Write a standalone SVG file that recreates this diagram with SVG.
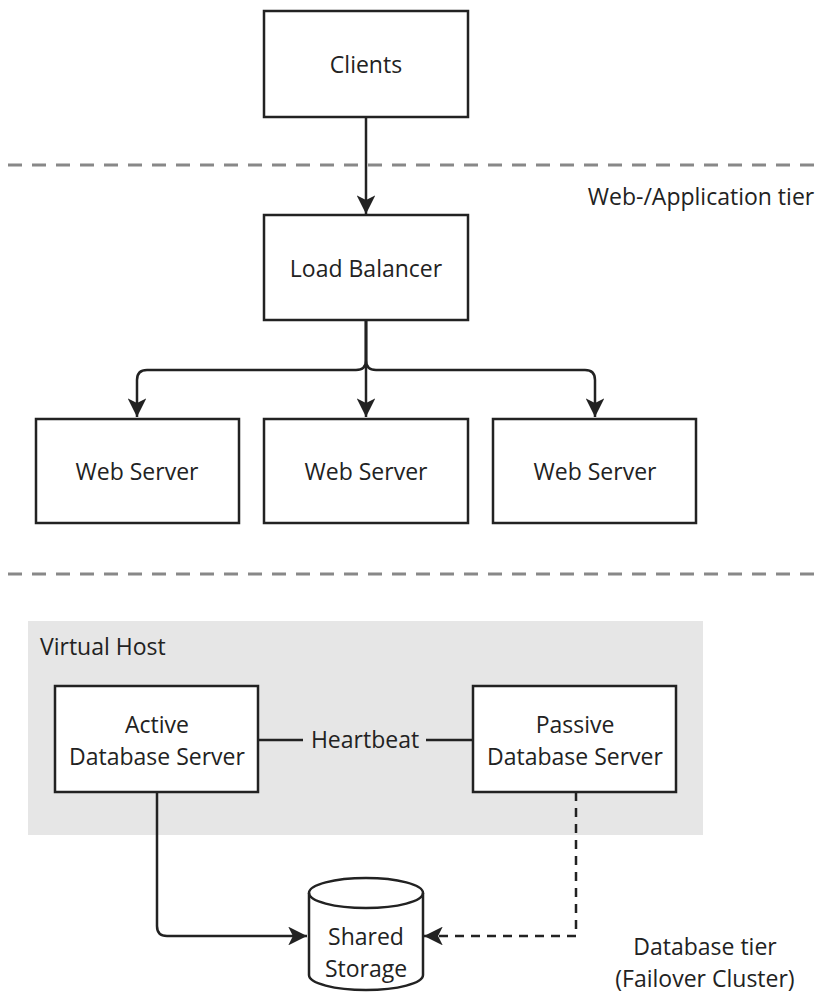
<svg xmlns="http://www.w3.org/2000/svg" width="818" height="994" viewBox="0 0 818 994">
<style>
.box{fill:#fff;stroke:#222;stroke-width:2.5}
.t{font-family:"Open Sans","Liberation Sans",sans-serif;font-size:23px;fill:#222;text-anchor:middle}
.tl{font-family:"Open Sans","Liberation Sans",sans-serif;font-size:23px;fill:#222}
.sep{stroke:#888;stroke-width:3;stroke-dasharray:14 10;fill:none}
.c{fill:none;stroke:#222;stroke-width:2.5}
.d{fill:none;stroke:#222;stroke-width:2.5;stroke-dasharray:9 7}
</style>
<defs>
<marker id="ah" viewBox="0 0 10 10" refX="10" refY="5" markerWidth="7.5" markerHeight="7.5" markerUnits="strokeWidth" orient="auto">
<path d="M0,0 L10,5 L0,10 L2.5,5 Z" fill="#222"/>
</marker>
</defs>
<rect x="0" y="0" width="818" height="994" fill="#fff"/>
<g id="separators">
<line class="sep" x1="8" y1="165" x2="818" y2="165"/>
<line class="sep" x1="8" y1="574" x2="818" y2="574"/>
</g>
<text class="t" x="701" y="205">Web-/Application tier</text>
<g id="virtual-host">
<rect x="28" y="621" width="675" height="214" fill="#e6e6e6"/>
<text class="tl" x="40" y="655">Virtual Host</text>
</g>
<g id="connectors">
<path class="c" d="M366,117 V214" marker-end="url(#ah)"/>
<path class="c" d="M366,320 V417" marker-end="url(#ah)"/>
<path class="c" d="M366,320 V360 Q366,370 356,370 H147 Q137,370 137,380 V417" marker-end="url(#ah)"/>
<path class="c" d="M366,320 V360 Q366,370 376,370 H585 Q595,370 595,380 V417" marker-end="url(#ah)"/>
<path class="c" d="M258,740 H303"/>
<path class="c" d="M426,740 H473"/>
<text class="t" x="365" y="748">Heartbeat</text>
<path class="c" d="M157,792 V926 Q157,936 167,936 H307" marker-end="url(#ah)"/>
<path class="d" d="M576,792 V936 H424" marker-end="url(#ah)"/>
</g>
<g id="clients">
<rect class="box" x="264" y="11" width="204" height="106"/>
<text class="t" x="366" y="73">Clients</text>
</g>
<g id="load-balancer">
<rect class="box" x="264" y="215" width="204" height="105"/>
<text class="t" x="366" y="277">Load Balancer</text>
</g>
<g id="web1">
<rect class="box" x="36" y="419" width="203" height="104"/>
<text class="t" x="137" y="480">Web Server</text>
</g>
<g id="web2">
<rect class="box" x="264" y="419" width="204" height="104"/>
<text class="t" x="366" y="480">Web Server</text>
</g>
<g id="web3">
<rect class="box" x="493" y="419" width="203" height="104"/>
<text class="t" x="595" y="480">Web Server</text>
</g>
<g id="active-db">
<rect class="box" x="55" y="686" width="203" height="106"/>
<text class="t" x="157" y="733">Active</text>
<text class="t" x="157" y="765">Database Server</text>
</g>
<g id="passive-db">
<rect class="box" x="473" y="686" width="203" height="106"/>
<text class="t" x="575" y="733">Passive</text>
<text class="t" x="575" y="765">Database Server</text>
</g>
<g id="shared-storage">
<path class="box" d="M309,893 A57,15 0 0 1 423,893 V975 A57,15 0 0 1 309,975 Z"/>
<path class="c" d="M309,893 A57,15 0 0 0 423,893"/>
<text class="t" x="366" y="945">Shared</text>
<text class="t" x="366" y="977">Storage</text>
</g>
<g id="db-tier-label">
<text class="t" x="705" y="955">Database tier</text>
<text class="t" x="705" y="987">(Failover Cluster)</text>
</g>
</svg>
